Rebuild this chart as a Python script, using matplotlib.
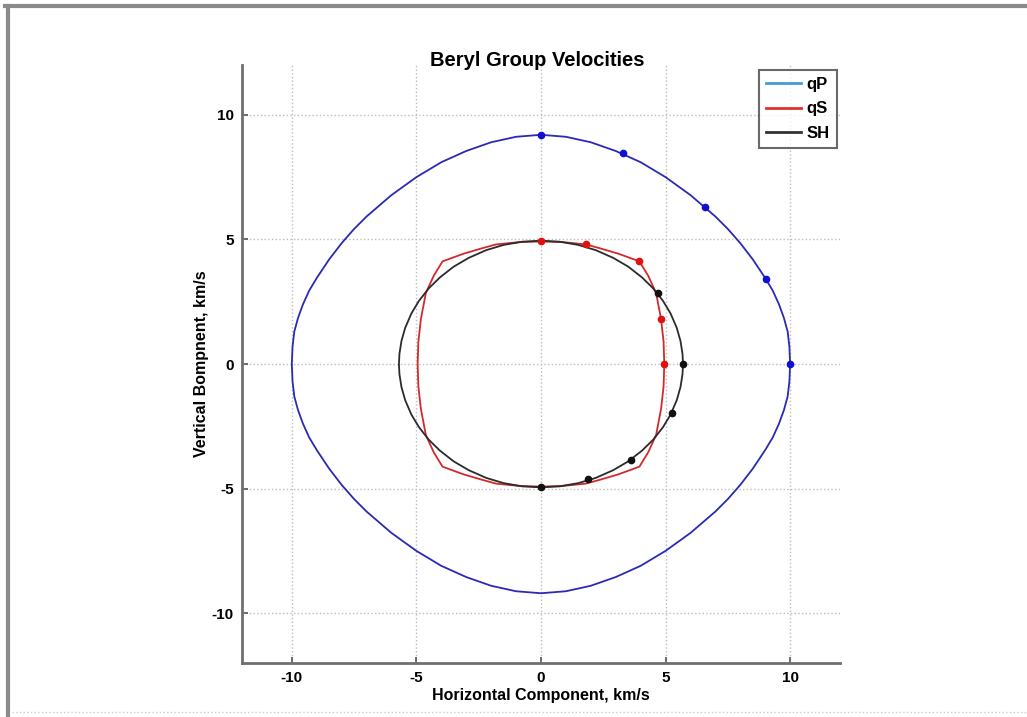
import matplotlib
matplotlib.use('Agg')
import matplotlib.pyplot as plt
from matplotlib.lines import Line2D
import numpy as np

plt.rcParams['font.family'] = ['Liberation Sans', 'DejaVu Sans']
plt.rcParams['axes.unicode_minus'] = False

# first-quadrant samples of each curve (km/s);
# the other quadrants are mirror images
qp_x = [0, 1, 2, 3, 4, 5, 6, 7, 7.5, 8, 8.5, 9, 9.3, 9.55, 9.75, 9.9, 9.97, 10]
qp_y = [9.2, 9.12, 8.9, 8.55, 8.1, 7.5, 6.78, 5.92, 5.42, 4.85, 4.2, 3.45, 2.95, 2.4, 1.85, 1.3, 0.7, 0]

qs_x = [0, 0.9, 1.8, 2.35, 3.1, 3.95, 4.3, 4.62, 4.82, 4.92, 4.95]
qs_y = [4.92, 4.89, 4.8, 4.65, 4.43, 4.12, 3.55, 2.85, 1.8, 0.9, 0]

sh_x = [0, 0.75, 1.5, 2.2, 2.9, 3.5, 4.05, 4.5, 4.9, 5.2, 5.45, 5.6, 5.68, 5.7]
sh_y = [4.95, 4.91, 4.78, 4.57, 4.26, 3.91, 3.48, 3.04, 2.53, 2.03, 1.45, 0.92, 0.41, 0]

# dots marked on the curves
qp_dot_x = [0, 3.3, 6.6, 9.05, 10]
qp_dot_y = [9.2, 8.45, 6.3, 3.4, 0]
qs_dot_x = [0, 1.8, 3.95, 4.82, 4.95]
qs_dot_y = [4.92, 4.8, 4.12, 1.8, 0]
sh_dot_x = [0, 1.87, 3.61, 5.26, 5.7, 4.69]
sh_dot_y = [-4.95, -4.62, -3.85, -1.97, 0, 2.86]

ticks = [-10, -5, 0, 5, 10]
labels = ['qP', 'qS', 'SH']


def closed(qx, qy):
    # build the full curve from the quadrant by reflection
    qx = np.array(qx, float)
    qy = np.array(qy, float)
    x = np.concatenate([qx, qx[::-1][1:], -qx[1:], -qx[::-1][1:]])
    y = np.concatenate([qy, -qy[::-1][1:], -qy[1:], qy[::-1][1:]])
    return x, y


fig = plt.figure(figsize=(10.27, 7.17), dpi=100)
ax = fig.add_axes([0.2356, 0.0753, 0.5823, 0.834])

blue = '#2a2ab4'
red = '#d22a2a'
black = '#2b2b2b'

x, y = closed(qp_x, qp_y)
ax.plot(x, y, color=blue, lw=1.3)
x, y = closed(qs_x, qs_y)
ax.plot(x, y, color=red, lw=1.3)
x, y = closed(sh_x, sh_y)
ax.plot(x, y, color=black, lw=1.3)

ax.plot(qp_dot_x, qp_dot_y, 'o', color='#1010d0', ms=4.5, ls='none')
ax.plot(qs_dot_x, qs_dot_y, 'o', color='#e01010', ms=4.5, ls='none')
ax.plot(sh_dot_x, sh_dot_y, 'o', color='#111111', ms=4.5, ls='none')

ax.set_xlim(-12, 12)
ax.set_ylim(-12, 12)
ax.set_xticks(ticks)
ax.set_yticks(ticks)
ax.grid(True, ls=':', color='#bdbdbd', lw=1)
ax.set_axisbelow(True)
ax.tick_params(direction='in', length=4, width=1.2, color='#555555',
               labelsize=11, pad=6)
for lab in ax.get_xticklabels() + ax.get_yticklabels():
    lab.set_fontweight('bold')
for s in ['top', 'right']:
    ax.spines[s].set_visible(False)
for s in ['left', 'bottom']:
    ax.spines[s].set_color('#707070')
    ax.spines[s].set_linewidth(2)

fig.text(0.523, 0.916, 'Beryl Group Velocities', fontsize=14.5, fontweight='bold',
         ha='center', va='center')
ax.set_xlabel('Horizontal Component, km/s', fontsize=11.5, fontweight='bold', labelpad=2)
ax.set_ylabel('Vertical Bompnent, km/s', fontsize=11.5, fontweight='bold', labelpad=2)

handles = [Line2D([], [], color='#3f9be0', lw=2),
           Line2D([], [], color='#e03030', lw=2),
           Line2D([], [], color='#333333', lw=2)]
leg = ax.legend(handles, labels, loc='upper right', bbox_to_anchor=(0.995, 0.992),
                prop={'weight': 'bold', 'size': 12}, handlelength=2.1,
                handletextpad=0.3, borderpad=0.45, labelspacing=0.55,
                fancybox=False, shadow=False, borderaxespad=0)
leg.get_frame().set_edgecolor('#444444')
leg.get_frame().set_linewidth(1.5)

# grey window frame and dotted bottom line of the screenshot
fig.add_artist(Line2D([5 / 1027, 1], [1 - 6 / 717, 1 - 6 / 717], color='#8a8a8a', lw=3))
fig.add_artist(Line2D([8 / 1027, 8 / 1027], [0, 1 - 6 / 717], color='#8a8a8a', lw=3))
fig.add_artist(Line2D([12 / 1027, 1], [5 / 717, 5 / 717], color='#cccccc', lw=1, ls=':'))

fig.savefig('out.png', dpi=100)
